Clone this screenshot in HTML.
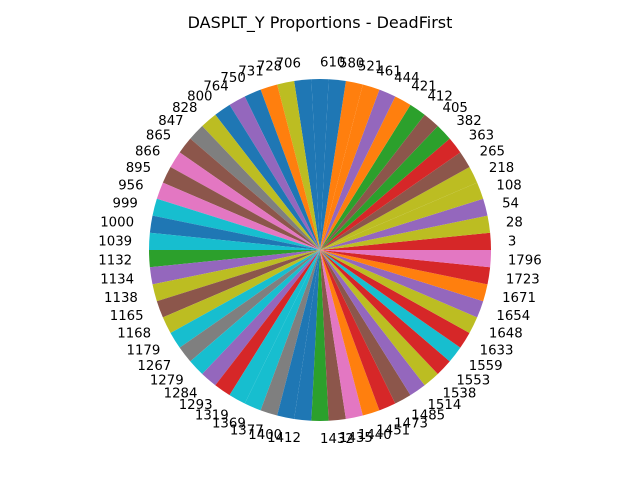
<!DOCTYPE html>
<html><head><meta charset="utf-8"><style>
body{margin:0;background:#fff;}
svg{display:block;font-family:"DejaVu Sans","Liberation Sans",sans-serif;}
</style></head><body>
<svg id="chart" width="640" height="480" viewBox="0 0 640 480">
<rect width="640" height="480" fill="#fff"/>
<text x="320" y="28" text-anchor="middle" font-size="16" fill="#000">DASPLT_Y Proportions - DeadFirst</text>
<g id="wedges"></g>
<g id="labels"></g>
</svg>
<script>
const categories = ["3","28","54","108","218","265","363","382","405","412","421","444","461","521","580","610","706","728","731","750","764","800","828","847","865","866","895","956","999","1000","1039","1132","1134","1138","1165","1168","1179","1267","1279","1284","1293","1319","1369","1377","1400","1412","1432","1435","1440","1451","1473","1485","1514","1538","1553","1559","1633","1648","1654","1671","1723","1796"];
const values = categories.map(() => 1);
const colorNames = ["red","olive","purple","olive","olive","brown","red","green","brown","green","orange","purple","orange","orange","blue",
"blue","blue","olive","orange","blue","purple","blue","olive","gray","brown","pink","brown","pink","cyan","blue","cyan","green",
"purple","olive","brown","olive","cyan","gray","cyan","purple","red","cyan","cyan","gray","blue","blue","green",
"brown","pink","orange","red","brown","purple","olive","red","cyan","red","olive","purple","orange","red","pink"];
const palette = {blue:"#1f77b4",orange:"#ff7f0e",green:"#2ca02c",red:"#d62728",purple:"#9467bd",brown:"#8c564b",pink:"#e377c2",gray:"#7f7f7f",olive:"#bcbd22",cyan:"#17becf"};
const cx = 320, cy = 250, R = 171;
const total = values.reduce((a,b)=>a+b,0);
const ns = "http://www.w3.org/2000/svg";
const wg = document.getElementById("wedges"), lg = document.getElementById("labels");
let a0 = 0;
values.forEach((v,i)=>{
  const a1 = a0 + v/total*2*Math.PI;
  const x0 = cx + R*Math.cos(a0), y0 = cy - R*Math.sin(a0);
  const x1 = cx + R*Math.cos(a1), y1 = cy - R*Math.sin(a1);
  const p = document.createElementNS(ns,"path");
  p.setAttribute("d",`M${cx},${cy}L${x0},${y0}A${R},${R} 0 ${(a1-a0)>Math.PI?1:0} 0 ${x1},${y1}Z`);
  p.setAttribute("fill",palette[colorNames[i%colorNames.length]]);
  
  
  wg.appendChild(p);
  const am = (a0+a1)/2;
  const lx = cx + 1.1*R*Math.cos(am), ly = cy - 1.1*R*Math.sin(am);
  const t = document.createElementNS(ns,"text");
  t.setAttribute("x",lx); t.setAttribute("y",ly+4.8);
  t.setAttribute("font-size","13.3");
  t.setAttribute("text-anchor", Math.cos(am) >= 0 ? "start" : "end");
  t.textContent = categories[i];
  
  
  lg.appendChild(t);
  a0 = a1;
});
</script>
</body></html>
